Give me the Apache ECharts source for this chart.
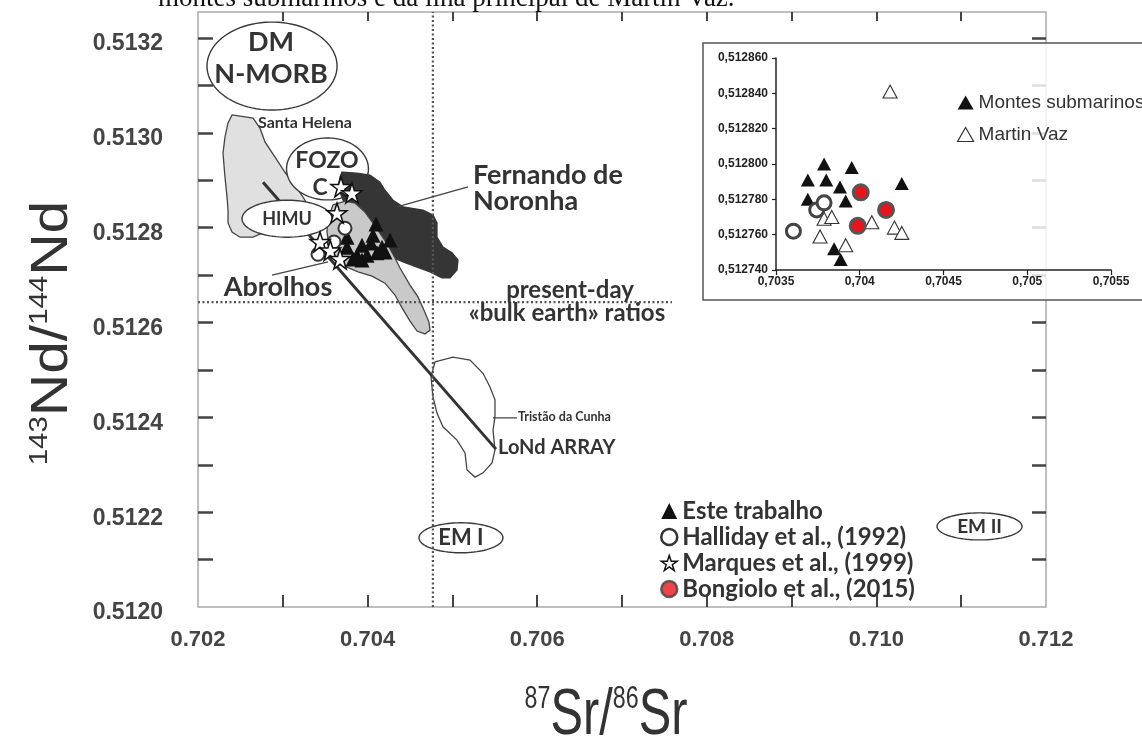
<!DOCTYPE html>
<html>
<head>
<meta charset="utf-8">
<script src="https://cdn.jsdelivr.net/npm/echarts@6/dist/echarts.min.js"></script>
<style>
html,body{margin:0;padding:0;background:#fff;}
#c{width:1142px;height:747px;}
</style>
</head>
<body>
<div id="c"></div>
<script>
// ---------------- DATA (data units: 87Sr/86Sr , 143Nd/144Nd) ----------------
const xLabelValues = [0.702, 0.704, 0.706, 0.708, 0.710, 0.712];
const xTickValues  = [0.703, 0.704, 0.705, 0.706, 0.707, 0.708, 0.709, 0.710, 0.711];
const yLabelValues = [0.5120, 0.5122, 0.5124, 0.5126, 0.5128, 0.5130, 0.5132];
const yTickValues  = [0.5121, 0.5122, 0.5123, 0.5124, 0.5125, 0.5126, 0.5127, 0.5128, 0.5129, 0.5130, 0.5131, 0.5132];

// main diagram samples
const esteTrabalho = [
  [0.704099, 0.512808], [0.704064, 0.512784], [0.704264, 0.512774], [0.703757, 0.512780],
  [0.703934, 0.512763], [0.704040, 0.512768], [0.704170, 0.512759], [0.703875, 0.512742],
  [0.703993, 0.512742], [0.704111, 0.512747], [0.704205, 0.512749], [0.703828, 0.512734],
  [0.703934, 0.512732], [0.703757, 0.512759]
];
const halliday = [[0.703733, 0.512799], [0.703604, 0.512770], [0.703415, 0.512744]];
const marques = [
  [0.703686, 0.512886], [0.703816, 0.512873], [0.703639, 0.512831],
  [0.703439, 0.512770], [0.703560, 0.512752], [0.703675, 0.512734]
];
const bongioloMain = [];

// inset samples
const insetMontes = [
  [0.70369, 0.512791], [0.703787, 0.512800], [0.70380, 0.512791], [0.70369, 0.512780],
  [0.703882, 0.512787], [0.703952, 0.512798], [0.703916, 0.512779], [0.704251, 0.512789],
  [0.703847, 0.512752], [0.703886, 0.512746]
];
const insetMartinVaz = [
  [0.704181, 0.512841], [0.703787, 0.512769], [0.703833, 0.512770], [0.703763, 0.512759],
  [0.703916, 0.512754], [0.704072, 0.512767], [0.704207, 0.512764], [0.704251, 0.512761]
];
const insetHalliday = [[0.703604, 0.512762], [0.703743, 0.512774], [0.703787, 0.512778]];
const insetBongiolo = [[0.704006, 0.512784], [0.704157, 0.512774], [0.703988, 0.512765]];

// fields (outlines in data units)
const santaHelena = [
  [0.702401,0.513038],[0.702649,0.513031],[0.702731,0.513010],[0.702790,0.512981],[0.702908,0.512949],
  [0.703026,0.512917],[0.703144,0.512890],[0.703262,0.512858],[0.703321,0.512827],[0.703203,0.512799],
  [0.702790,0.512791],[0.702649,0.512780],[0.702495,0.512780],[0.702401,0.512791],[0.702354,0.512810],
  [0.702354,0.512837],[0.702342,0.512865],[0.702318,0.512907],[0.702295,0.512957],[0.702318,0.512991],
  [0.702354,0.513021]
];
const fernandoNoronha = [
  [0.703698,0.512917],[0.703875,0.512915],[0.704028,0.512911],[0.704146,0.512896],[0.704205,0.512879],
  [0.704300,0.512858],[0.704418,0.512844],[0.704653,0.512837],[0.704771,0.512827],[0.704818,0.512810],
  [0.704818,0.512780],[0.704889,0.512759],[0.704995,0.512747],[0.705066,0.512732],[0.705054,0.512711],
  [0.704972,0.512694],[0.704877,0.512694],[0.704736,0.512707],[0.704583,0.512717],[0.704418,0.512728],
  [0.704288,0.512738],[0.704182,0.512759],[0.704028,0.512801],[0.703875,0.512831],[0.703710,0.512858],
  [0.703651,0.512886],[0.703675,0.512907]
];
const abrolhos = [
  [0.703592,0.512848],[0.703734,0.512856],[0.703851,0.512852],[0.703969,0.512833],[0.704087,0.512804],
  [0.704241,0.512763],[0.704323,0.512736],[0.704382,0.512715],[0.704500,0.512679],[0.704594,0.512654],
  [0.704665,0.512626],[0.704724,0.512601],[0.704736,0.512584],[0.704677,0.512576],[0.704583,0.512582],
  [0.704500,0.512603],[0.704406,0.512631],[0.704323,0.512658],[0.704205,0.512683],[0.704052,0.512698],
  [0.703887,0.512707],[0.703757,0.512717],[0.703616,0.512738],[0.703545,0.512763],[0.703521,0.512791],
  [0.703533,0.512820]
];
const tristaoCunha = [
  [0.704795,0.512517],[0.705007,0.512527],[0.705208,0.512521],[0.705361,0.512493],[0.705443,0.512464],
  [0.705502,0.512437],[0.705502,0.512401],[0.705479,0.512373],[0.705502,0.512331],[0.705467,0.512304],
  [0.705361,0.512283],[0.705267,0.512274],[0.705172,0.512289],[0.705149,0.512325],[0.705054,0.512352],
  [0.704889,0.512380],[0.704818,0.512409],[0.704771,0.512443],[0.704748,0.512485]
];

// mantle end-members: [centre Sr, centre Nd, radius Sr, radius Nd]
const endMembersLow = [
  [0.702873, 0.513141, 0.000767, 0.0000928],  // DM N-MORB
  [0.703527, 0.512924, 0.000483, 0.0000654],  // FOZO C
  [0.705101, 0.512146, 0.000495, 0.0000316],  // EM I
  [0.711216, 0.512170, 0.000501, 0.0000285]   // EM II
];
const endMembersHigh = [
  [0.703050, 0.512819, 0.000531, 0.0000390]   // HIMU
];

const loNdArray   = [[0.702767, 0.512896], [0.705514, 0.512333]];
const bulkEarthSr = [[0.70477, 0.5120], [0.70477, 0.513255]];
const bulkEarthNd = [[0.7020, 0.512643], [0.70759, 0.512643]];
const leaderFernando = [[0.705184, 0.512886], [0.704347, 0.512844]];
const leaderAbrolhos = [[0.702873, 0.512700], [0.703533, 0.512728]];
const leaderTristao  = [[0.705479, 0.512399], [0.705762, 0.512399]];

// annotation texts and their anchors (data units)
const annoTexts = ['DM', 'N-MORB', 'Santa Helena', 'FOZO', 'C', 'HIMU', 'Fernando de', 'Noronha',
  'Abrolhos', 'present-day', '«bulk earth» ratios', 'Tristão da Cunha', 'LoNd ARRAY', 'EM I', 'EM II'];
const annoAnchors = [
  [0.702861,0.513192],[0.702861,0.513124],[0.703262,0.513021],[0.703521,0.512941],[0.703439,0.512884],
  [0.703050,0.512818],[0.705243,0.512911],[0.705243,0.512856],[0.702943,0.512675],[0.706387,0.512669],
  [0.706351,0.512620],[0.705774,0.512401],[0.705538,0.512337],[0.705101,0.512146],[0.711216,0.512170]
];
// ---------------- STYLE ----------------
const FIELD_FONT = 'Lato, "DejaVu Sans", sans-serif';
const annoSize  = [27, 27, 16, 23, 23, 18, 27, 27, 27, 24, 24, 12.5, 20, 22, 19];
const annoAlign = ['center','center','center','center','center','center','left','left','center','center','center','left','left','center','center'];

const STAR = 'path://M50,0 L61.8,35.3 L98.9,35.3 L68.8,57.1 L80.2,92.7 L50,70.8 L19.8,92.7 L31.2,57.1 L1.1,35.3 L38.2,35.3 Z';

function ellipsePoints(cx, cy, rx, ry) {
  const pts = [];
  for (let i = 0; i < 90; i++) {
    const t = i / 90 * Math.PI * 2;
    pts.push([cx + rx * Math.cos(t), cy + ry * Math.sin(t)]);
  }
  return pts;
}
function fieldSeries(pts, fill, stroke, z) {
  return {
    type: 'custom', xAxisIndex: 0, yAxisIndex: 0, z: z, silent: true, clip: false,
    data: [pts[0]],
    renderItem: function (params, api) {
      return { type: 'polygon', shape: { points: pts.map(p => api.coord(p)) },
        style: { fill: fill, stroke: stroke, lineWidth: 1.3 } };
    }
  };
}
function ellipseSeries(list, z) {
  return {
    type: 'custom', xAxisIndex: 0, yAxisIndex: 0, z: z, silent: true, clip: false,
    data: list,
    renderItem: function (params, api) {
      const c = api.coord([api.value(0), api.value(1)]);
      const s = api.size([api.value(2), api.value(3)]);
      return { type: 'polygon', shape: { points: ellipsePoints(c[0], c[1], s[0], s[1]) },
        style: { fill: '#fff', stroke: '#3a3a3a', lineWidth: 1.4 } };
    }
  };
}
function lineSeries(pts, width, color, dash, z) {
  return {
    type: 'line', xAxisIndex: 0, yAxisIndex: 0, z: z, silent: true, symbol: 'none',
    data: pts, lineStyle: { width: width, color: color, type: dash || 'solid' }, animation: false
  };
}

const chart = echarts.init(document.getElementById('c'));

const option = {
  animation: false,
  backgroundColor: '#fff',
  grid: [
    { left: 198, top: 12, width: 848, height: 595, show: true, borderColor: '#aaa', borderWidth: 1.5, backgroundColor: 'transparent' },
    { left: 776, top: 58, width: 335, height: 212 }
  ],
  xAxis: [
    { type: 'value', gridIndex: 0, min: 0.702, max: 0.712, splitLine: { show: false },
      axisLine: { show: false },
      axisTick: { show: true, inside: true, length: 12, customValues: xTickValues, lineStyle: { color: '#444', width: 2 } },
      axisLabel: { customValues: xLabelValues, formatter: v => v.toFixed(3), margin: 22,
        fontFamily: '"Liberation Sans", Arial, sans-serif', fontWeight: 'bold', fontSize: 22, color: '#444' } },
    { type: 'value', gridIndex: 0, position: 'top', min: 0.702, max: 0.712, splitLine: { show: false },
      axisLine: { show: false },
      axisTick: { show: true, inside: true, length: 9, customValues: xTickValues, lineStyle: { color: '#444', width: 2 } },
      axisLabel: { show: false } },
    { type: 'value', gridIndex: 1, min: 0.7035, max: 0.7055, interval: 0.0005, z: 5, splitLine: { show: false },
      axisLine: { show: true, onZero: false, lineStyle: { color: '#222', width: 1.5 } },
      axisTick: { show: true, length: 5, lineStyle: { color: '#222', width: 1.2 } },
      axisLabel: { formatter: v => String(+v.toFixed(4)).replace('.', ','), margin: 6,
        fontFamily: '"Liberation Sans", Arial, sans-serif', fontWeight: 'bold', fontSize: 12, color: '#222' } }
  ],
  yAxis: [
    { type: 'value', gridIndex: 0, min: 0.512, max: 0.513255, splitLine: { show: false },
      axisLine: { show: false },
      axisTick: { show: true, inside: true, length: 15, customValues: yTickValues, lineStyle: { color: '#444', width: 2.5 } },
      axisLabel: { customValues: yLabelValues, formatter: v => v.toFixed(4), margin: 35,
        verticalAlign: 'top', lineHeight: 12,
        fontFamily: '"Liberation Sans", Arial, sans-serif', fontWeight: 'bold', fontSize: 23, color: '#444' } },
    { type: 'value', gridIndex: 0, position: 'right', min: 0.512, max: 0.513255, splitLine: { show: false },
      axisLine: { show: false },
      axisTick: { show: true, inside: true, length: 14, customValues: yTickValues, lineStyle: { color: '#444', width: 2.5 } },
      axisLabel: { show: false } },
    { type: 'value', gridIndex: 1, min: 0.51274, max: 0.51286, interval: 0.00002, z: 5, splitLine: { show: false },
      axisLine: { show: true, onZero: false, lineStyle: { color: '#222', width: 1.5 } },
      axisTick: { show: true, length: 4, lineStyle: { color: '#222', width: 1.2 } },
      axisLabel: { formatter: v => v.toFixed(6).replace('.', ','), margin: 8,
        fontFamily: '"Liberation Sans", Arial, sans-serif', fontWeight: 'bold', fontSize: 12, color: '#222' } }
  ],
  legend: [
    { data: [
        { name: 'Este trabalho', icon: 'triangle', itemStyle: { color: '#111', borderWidth: 0 } },
        { name: 'Halliday et al., (1992)', icon: 'circle', itemStyle: { color: '#fff', borderColor: '#333', borderWidth: 2.5 } },
        { name: 'Marques et al., (1999)', icon: STAR, itemStyle: { color: '#fff', borderColor: '#111', borderWidth: 1.5 } },
        { name: 'Bongiolo et al., (2015)', icon: 'circle', itemStyle: { color: '#e8141b', borderColor: '#444', borderWidth: 2.5 } }
      ],
      orient: 'vertical', left: 655, top: 494, itemWidth: 16, itemHeight: 16, itemGap: 2, selectedMode: false,
      textStyle: { fontFamily: FIELD_FONT, fontWeight: 'bold', fontSize: 24, lineHeight: 22, color: '#333' } },
    { data: [
        { name: 'Montes submarinos', icon: 'triangle', itemStyle: { color: '#111', borderWidth: 0 } },
        { name: 'Martin Vaz', icon: 'triangle', itemStyle: { color: '#fff', borderColor: '#333', borderWidth: 1.2 } }
      ],
      orient: 'vertical', left: 952, top: 88, itemWidth: 16, itemHeight: 14, itemGap: 13, selectedMode: false, z: 6,
      textStyle: { fontFamily: '"Liberation Sans", Arial, sans-serif', fontSize: 19, color: '#333' } }
  ],
  graphic: [
    { type: 'text', x: 158, y: -1, z: 0, style: { text: 'montes submarinos e da ilha principal de Martin Vaz.',
        font: '27px "Liberation Serif", "Times New Roman", serif', fill: '#111', verticalAlign: 'middle' } },
    { type: 'rect', z: 1, shape: { x: 703, y: 43, width: 460, height: 257 },
      style: { fill: 'rgba(255,255,255,0.82)', stroke: '#555', lineWidth: 1.5 } },
    { type: 'text', x: 606, y: 716, z: 1, scaleX: 0.75, style: {
        text: '{s|87}{b|Sr/}{s|86}{b|Sr}', align: 'center', verticalAlign: 'middle',
        rich: { b: { fontFamily: '"Liberation Sans", Arial, sans-serif', fontSize: 65, fill: '#333', color: '#333' },
                s: { fontFamily: '"Liberation Sans", Arial, sans-serif', fontSize: 31, fill: '#333', color: '#333', verticalAlign: 'top' } } } },
    { type: 'text', x: 53, y: 333, rotation: Math.PI / 2, scaleX: 1.13, z: 1, style: {
        text: '{s|143}{b|Nd/}{s|144}{b|Nd}', align: 'center', verticalAlign: 'middle',
        rich: { b: { fontFamily: '"Liberation Sans", Arial, sans-serif', fontSize: 52, fill: '#333', color: '#333' },
                s: { fontFamily: '"Liberation Sans", Arial, sans-serif', fontSize: 26, fill: '#333', color: '#333', verticalAlign: 'top' } } } }
  ],
  series: [
    fieldSeries(santaHelena, '#e0e0e0', '#444', 2),
    fieldSeries(tristaoCunha, '#fff', '#444', 2),
    ellipseSeries(endMembersLow, 3),
    fieldSeries(fernandoNoronha, '#353535', '#353535', 4),
    fieldSeries(abrolhos, '#c9c9c9', '#444', 5),
    lineSeries(loNdArray, 3, '#333', 'solid', 6),
    ellipseSeries(endMembersHigh, 7),
    lineSeries(bulkEarthSr, 2.2, '#555', [2, 2.5], 8),
    lineSeries(bulkEarthNd, 2.2, '#555', [2, 2.5], 8),
    lineSeries(leaderFernando, 1.3, '#444', 'solid', 8),
    lineSeries(leaderAbrolhos, 1.3, '#444', 'solid', 8),
    lineSeries(leaderTristao, 1.3, '#444', 'solid', 8),
    { type: 'custom', xAxisIndex: 0, yAxisIndex: 0, z: 9, silent: true, clip: false,
      data: annoAnchors.map((a, i) => [a[0], a[1], i]),
      renderItem: function (params, api) {
        const i = api.value(2);
        const p = api.coord([api.value(0), api.value(1)]);
        return { type: 'text', x: p[0], y: p[1],
          style: { text: annoTexts[i], font: 'bold ' + annoSize[i] + 'px ' + FIELD_FONT, fill: '#333',
                   align: annoAlign[i], verticalAlign: 'middle' } };
      } },
    { name: 'Este trabalho', type: 'scatter', xAxisIndex: 0, yAxisIndex: 0, z: 10, data: esteTrabalho,
      symbol: 'triangle', symbolSize: 15, itemStyle: { color: '#111', opacity: 1 } },
    { name: 'Halliday et al., (1992)', type: 'scatter', xAxisIndex: 0, yAxisIndex: 0, z: 11, data: halliday,
      symbol: 'circle', symbolSize: 13, itemStyle: { color: '#fff', borderColor: '#333', borderWidth: 2, opacity: 1 } },
    { name: 'Marques et al., (1999)', type: 'scatter', xAxisIndex: 0, yAxisIndex: 0, z: 12, data: marques,
      symbol: STAR, symbolSize: 20, itemStyle: { color: '#fff', borderColor: '#111', borderWidth: 1.5, opacity: 1 } },
    { name: 'Bongiolo et al., (2015)', type: 'scatter', xAxisIndex: 0, yAxisIndex: 0, z: 12, data: bongioloMain,
      symbol: 'circle', symbolSize: 13, itemStyle: { color: '#e8141b', borderColor: '#444', borderWidth: 2.5 } },
    // inset
    { name: 'Montes submarinos', type: 'scatter', xAxisIndex: 2, yAxisIndex: 2, z: 10, data: insetMontes,
      symbol: 'triangle', symbolSize: [14, 13], itemStyle: { color: '#111', opacity: 1 } },
    { name: 'Martin Vaz', type: 'scatter', xAxisIndex: 2, yAxisIndex: 2, z: 10, data: insetMartinVaz,
      symbol: 'triangle', symbolSize: [14, 13], itemStyle: { color: '#fff', borderColor: '#333', borderWidth: 1.1, opacity: 1 } },
    { name: 'inset Halliday', type: 'scatter', xAxisIndex: 2, yAxisIndex: 2, z: 10, data: insetHalliday,
      symbol: 'circle', symbolSize: 14, itemStyle: { color: '#fff', borderColor: '#444', borderWidth: 3, opacity: 1 } },
    { name: 'inset Bongiolo', type: 'scatter', xAxisIndex: 2, yAxisIndex: 2, z: 10, data: insetBongiolo,
      symbol: 'circle', symbolSize: 15, itemStyle: { color: '#e8141b', borderColor: '#555', borderWidth: 3, opacity: 1 } }
  ]
};
chart.setOption(option);
</script>
</body>
</html>
